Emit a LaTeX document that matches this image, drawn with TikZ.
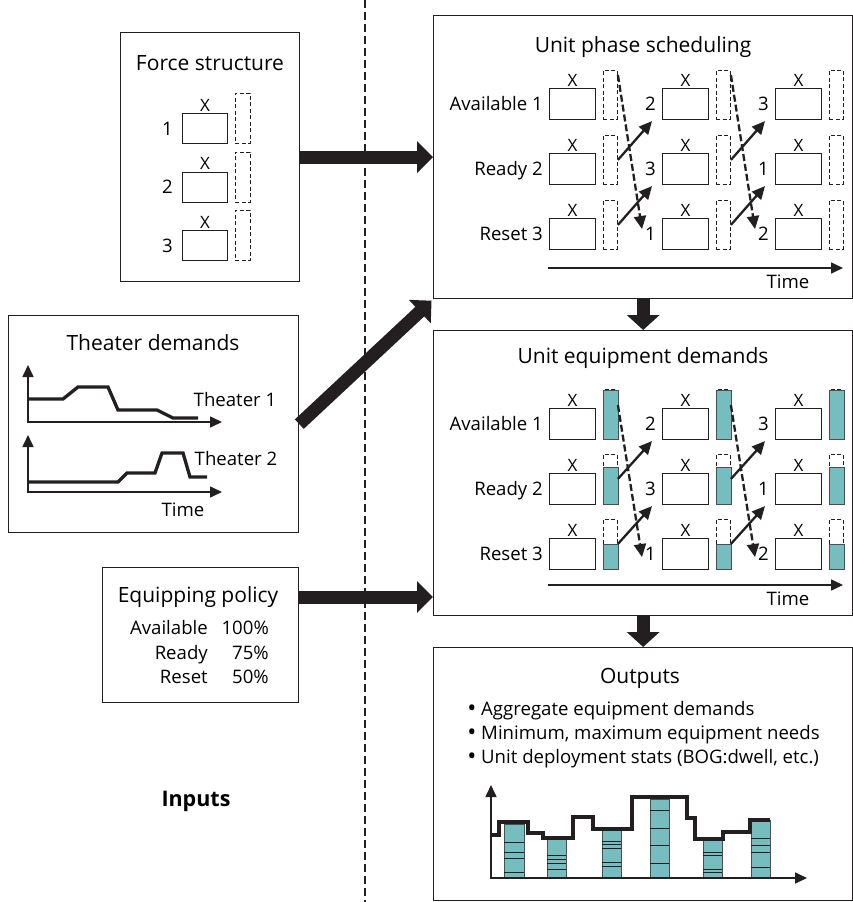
\documentclass[tikz,border=0pt]{standalone}
\usepackage{fontspec}
\setmainfont{Open Sans}
\usetikzlibrary{arrows.meta,calc}
\definecolor{tealbar}{RGB}{117,189,191}
\definecolor{ink}{RGB}{35,31,32}
\begin{document}
\begin{tikzpicture}[x=1pt,y=-1pt,font=\fontsize{18.6}{22}\selectfont,
 frame/.style={draw=ink, line width=1.3pt, rectangle, inner sep=0pt, anchor=north west},
 sbox/.style={draw=ink, line width=1.1pt, rectangle, inner sep=0pt, minimum width=46pt, minimum height=31pt, anchor=north west},
 dbox/.style={draw=ink, line width=0.9pt, dash pattern=on 4pt off 2.5pt, rectangle, inner sep=0pt, minimum width=14pt, minimum height=49pt, anchor=north west},
 tbar/.style={draw=ink!80, fill=tealbar, line width=0.8pt},
 big/.style={draw=ink, line width=13pt, -{Triangle[length=16pt,width=31pt]}},
 thinarr/.style={draw=ink, line width=2.3pt, -{Triangle[length=13pt,width=12pt]}},
 thindash/.style={thinarr, dash pattern=on 7pt off 3pt},
 axis/.style={draw=ink, line width=1.6pt, -{Triangle[length=12pt,width=11pt]}},
 axis2/.style={draw=ink, line width=1.6pt, {Triangle[length=12pt,width=11pt]}-{Triangle[length=12pt,width=11pt]}},
 curve/.style={draw=ink, line width=3.3pt, line join=miter},
 title/.style={anchor=base, inner sep=0pt, font=\fontsize{21}{24}\selectfont},
 lab/.style={anchor=east, inner sep=0pt, text height=13pt, text depth=0pt},
 xlab/.style={anchor=base, inner sep=0pt, font=\fontsize{17}{20}\selectfont},
 txt/.style={anchor=base, inner sep=0pt}
]
\useasboundingbox (0,0) rectangle (853,902);

% divider
\coordinate (vt) at (365,0);
\coordinate (vb) at (365,902);
\draw[ink, line width=2.5pt, dash pattern=on 8pt off 4pt] (vt) -- (vb);

% frames
\node[frame, minimum width=179pt, minimum height=249pt] (fs) at (120,32) {};
\node[frame, minimum width=290pt, minimum height=217pt] (th) at (8,315) {};
\node[frame, minimum width=196pt, minimum height=135pt] (ep) at (102,567) {};
\node[frame, minimum width=419pt, minimum height=283pt] (ph) at (433,15) {};
\node[frame, minimum width=419pt, minimum height=285pt] (eq) at (433,330) {};
\node[frame, minimum width=419pt, minimum height=253pt] (out) at (433,647) {};

% titles
\node[title] at (210,70) {Force structure};
\node[title] at (153,350) {Theater demands};
\node[title] at (198,602) {Equipping policy};
\node[title] at (643,52) {Unit phase scheduling};
\node[title] at (643,363) {Unit equipment demands};
\node[title] at (640,683) {Outputs};
\node[title, font=\fontsize{21.5}{24}\bfseries] at (196,806) {Inputs};

% force structure
\foreach \r/\Y in {1/113,2/171.5,3/230} {
  \node[sbox, minimum width=45pt, minimum height=30pt] (fs\r) at (182,\Y) {};
  \node[dbox, minimum width=15pt, minimum height=50pt] (fsd\r) at (235,\Y-20) {};
  \node[xlab] at ($(fs\r.north)+(0,-2)$) {X};
  \node[lab] at ($(fs\r.west)+(-9,0)$) {\r};
}

% big arrows
\draw[big] (fs.east) -- (ph.west);
\draw[big, shorten >=2pt] (th.east) -- (ph.south west);
\coordinate (epa) at ($(ep.north east)+(0,30)$);
\draw[big] (epa) -- (epa -| eq.west);
\draw[big, -{Triangle[length=15pt,width=32pt]}] (ph.south) -- (eq.north);
\draw[big, -{Triangle[length=15pt,width=32pt]}] (eq.south) -- (out.north);

% unit phase scheduling grid
\foreach \r/\Y in {1/88,2/153,3/218} {
  \foreach \c/\X in {1/549,2/662,3/775} {
    \node[sbox] (ps\r\c) at (\X,\Y) {};
    \node[dbox] (pd\r\c) at (\X+54,\Y-18) {};
    \node[xlab] at ($(ps\r\c.north)+(0,-2)$) {X};
  }
}
\node[lab] at ($(ps11.west)+(-6,0)$) {Available 1};
\node[lab] at ($(ps21.west)+(-6,0)$) {Ready 2};
\node[lab] at ($(ps31.west)+(-6,0)$) {Reset 3};
\foreach \n/\t in {12/2,22/3,32/1,13/3,23/1,33/2} {
  \node[lab] at ($(ps\n.west)+(-6,0)$) {\t};
}
\foreach \a/\b in {1/2,2/3} {
  \draw[thinarr] (pd2\a.east) -- ($(ps1\b.south west)+(-10,1)$);
  \draw[thinarr] (pd3\a.east) -- ($(ps2\b.south west)+(-10,1)$);
  \draw[thindash] ($(pd1\a.north east)+(0,5)$) -- ($(ps3\b.west)+(-20,-5)$);
}
\coordinate (pt0) at (548,268);
\coordinate (pt1) at (843,268);
\draw[axis] (pt0) -- (pt1);
\node[txt] at (788,288) {Time};

% unit equipment demands grid
\foreach \r/\Y/\f in {1/408/49,2/473/37,3/538/24.5} {
  \foreach \c/\X in {1/549,2/662,3/775} {
    \node[sbox] (es\r\c) at (\X,\Y) {};
    \node[dbox] (ed\r\c) at (\X+54,\Y-19) {};
    \draw[tbar] (ed\r\c.south west) rectangle ($(ed\r\c.south east)+(0,-\f)$);
    \node[xlab] at ($(es\r\c.north)+(0,-2)$) {X};
  }
}
\node[lab] at ($(es11.west)+(-6,0)$) {Available 1};
\node[lab] at ($(es21.west)+(-6,0)$) {Ready 2};
\node[lab] at ($(es31.west)+(-6,0)$) {Reset 3};
\foreach \n/\t in {12/2,22/3,32/1,13/3,23/1,33/2} {
  \node[lab] at ($(es\n.west)+(-6,0)$) {\t};
}
\foreach \a/\b in {1/2,2/3} {
  \draw[thinarr] (ed2\a.east) -- ($(es1\b.south west)+(-10,1)$);
  \draw[thinarr] (ed3\a.east) -- ($(es2\b.south west)+(-10,1)$);
  \draw[thindash] ($(ed1\a.north east)+(0,16)$) -- ($(es3\b.west)+(-20,3)$);
}
\coordinate (et0) at (548,585);
\coordinate (et1) at (843,585);
\draw[axis] (et0) -- (et1);
\node[txt] at (788,605) {Time};

% theater demands
\coordinate (a1t) at (28,365); \coordinate (a1o) at (28,422); \coordinate (a1r) at (222,422);
\draw[axis2] (a1t) -- (a1o) -- (a1r);
\draw[curve] (28,399) -- (63,399) -- (78,387) -- (108,387) -- (118,410) -- (157,410) -- (173,418) -- (198,418);
\node[txt] at (235,406) {Theater 1};
\coordinate (a2t) at (28,435); \coordinate (a2o) at (28,492); \coordinate (a2r) at (222,492);
\draw[axis2] (a2t) -- (a2o) -- (a2r);
\draw[curve] (28,482) -- (118,482) -- (127,473) -- (155,473) -- (162,453) -- (183,453) -- (190,477) -- (207,477);
\node[txt] at (236,465) {Theater 2};
\node[txt] at (183,516) {Time};

% equipping policy
\node[txt, anchor=base east] at (208,634) {Available};
\node[txt, anchor=base east] at (208,659) {Ready};
\node[txt, anchor=base east] at (208,683) {Reset};
\node[txt, anchor=base east] at (269,634) {100\%};
\node[txt, anchor=base east] at (269,659) {75\%};
\node[txt, anchor=base east] at (269,683) {50\%};

% outputs
\foreach \yb/\t in {715/Aggregate equipment demands,739/{Minimum, maximum equipment needs},763/{Unit deployment stats (BOG:dwell, etc.)}} {
  \node[txt, font=\fontsize{24}{26}\selectfont] at (472,\yb+1) {•};
  \node[txt, anchor=base west] at (481,\yb) {\t};
}
\foreach \xa/\xb/\tp/\ls in {504/524/824/{842,852,858,872}, 547/566/839/{855,859,863,869}, 602/621/830/{841,844,848,862,866}, 650/669/799/{810,828,845,863}, 703/722/840/{852,855,869,872}, 751/770/820/{838,845,852,867}} {
  \draw[tbar] (\xa,\tp) rectangle (\xb,878);
  \foreach \l in \ls {\draw[ink, line width=0.9pt] (\xa,\l) -- (\xb,\l);}
}
\coordinate (ot) at (491,785); \coordinate (oo) at (491,878); \coordinate (orr) at (807,878);
\draw[axis2] (ot) -- (oo) -- (orr);
\draw[curve, line width=3.8pt] (491,835) -- (499,835) -- (499,822) -- (528,822) -- (528,833) -- (543,833) -- (543,838) -- (573,838) -- (573,817) -- (593,817) -- (593,829) -- (632,829) -- (632,797) -- (687,797) -- (687,818) -- (695,818) -- (695,839) -- (723,839) -- (723,832) -- (750,832) -- (750,820) -- (770,820);
\end{tikzpicture}
\end{document}
